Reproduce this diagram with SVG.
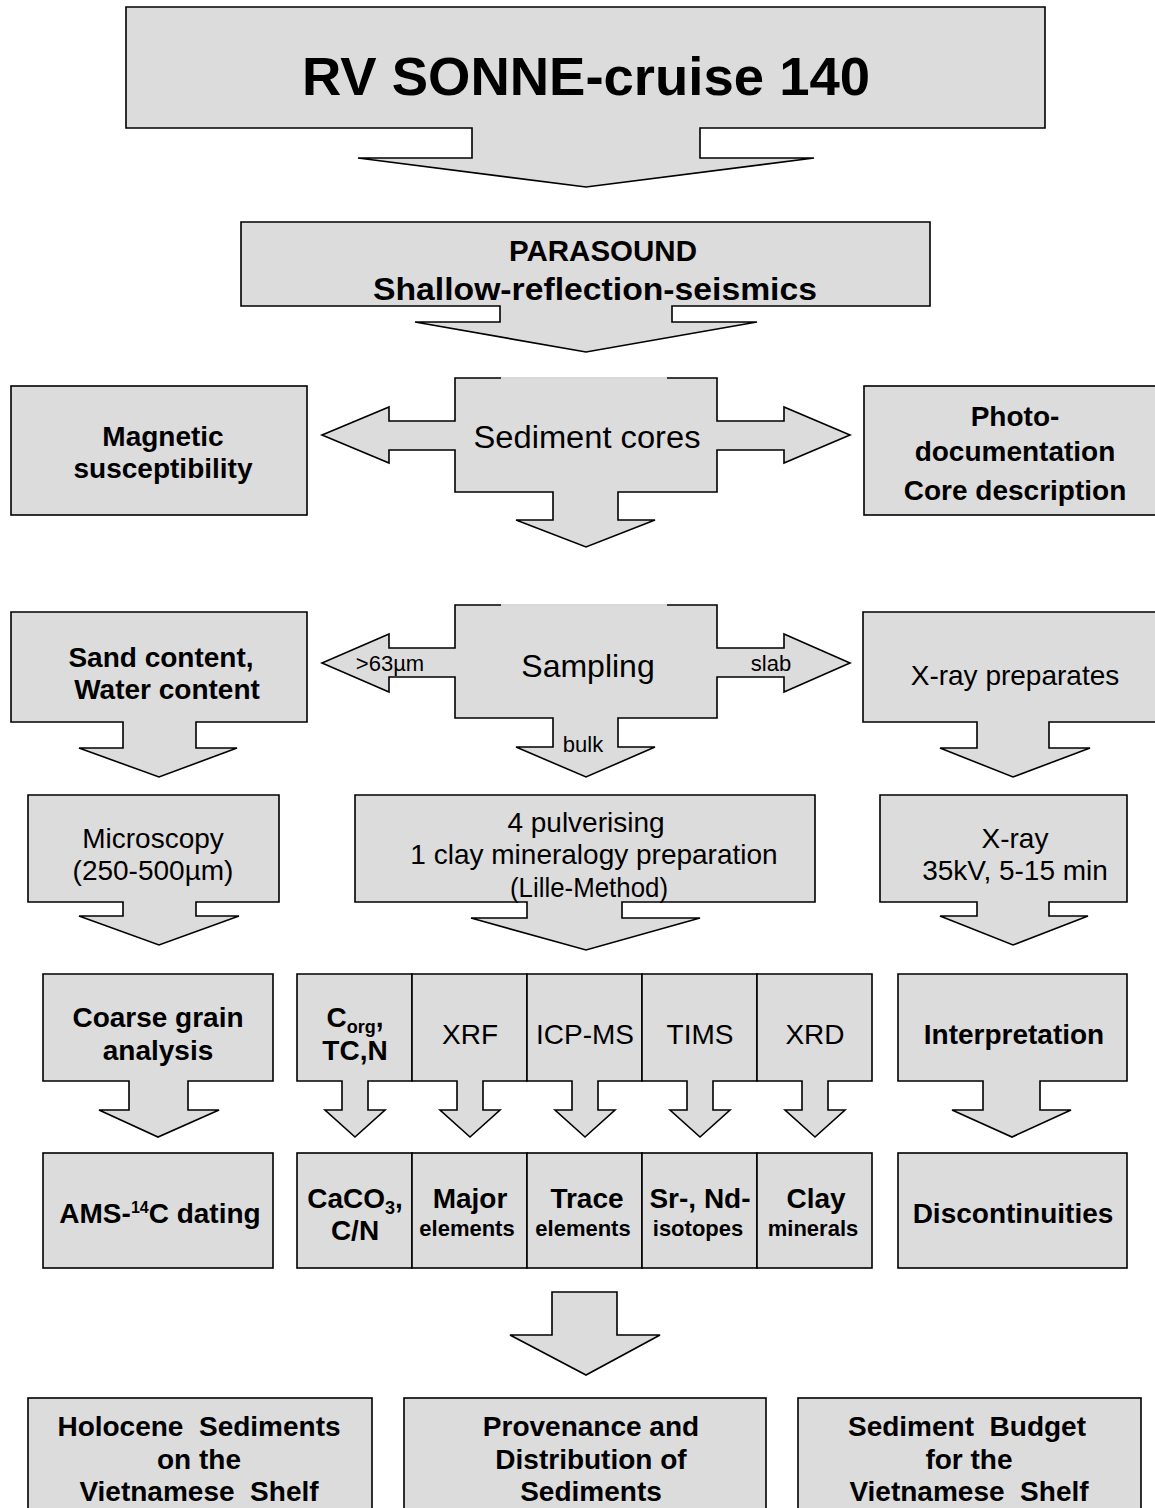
<svg xmlns="http://www.w3.org/2000/svg" width="1155" height="1508" viewBox="0 0 1155 1508">
<style>
.shape{fill:#dcdcdc;stroke:#000;stroke-width:1.6;stroke-linejoin:miter}
.t{font-family:"Liberation Sans",Arial,Helvetica,sans-serif;fill:#000;text-anchor:middle}
.b{font-weight:bold}
.f28{font-size:28px}
.f22{font-size:22px}
.gap{stroke:#d8d8d8;stroke-width:2}
</style>
<rect width="1155" height="1508" fill="#fff"/>

<g id="node-title">
<path class="shape" d="M126,7 H1045 V128 H700 V158 H814 L586,187 L358,158 H472 V128 H126 Z"/>
<text class="t b" x="586" y="95" font-size="54" textLength="568" lengthAdjust="spacingAndGlyphs">RV SONNE-cruise 140</text>
</g>

<g id="node-parasound">
<path class="shape" d="M241,222 H930 V306 H672 V322 H757 L586,352 L415,322 H500 V306 H241 Z"/>
<text class="t b" x="603" y="261" font-size="30" textLength="188" lengthAdjust="spacingAndGlyphs">PARASOUND</text>
<text class="t b" x="595" y="300" font-size="31" textLength="444" lengthAdjust="spacingAndGlyphs">Shallow-reflection-seismics</text>
</g>

<g id="node-magnetic">
<rect class="shape" x="11" y="386" width="296" height="129"/>
<text class="t b f28" x="163" y="446">Magnetic</text>
<text class="t b f28" x="163" y="478">susceptibility</text>
</g>

<g id="node-photo">
<rect class="shape" x="864" y="386" width="300" height="129"/>
<text class="t b f28" x="1015" y="426">Photo-</text>
<text class="t b f28" x="1015" y="461">documentation</text>
<text class="t b f28" x="1015" y="500">Core description</text>
</g>

<g id="node-sediment-cores">
<path class="shape" d="M455,378 H717 V421 H784 V407 L850,435 L784,463 V450 H717 V492 H618 V520 H655 L586,547 L516,520 H553 V492 H455 V450 H389 V463 L322,435 L389,407 V421 H455 Z"/>
<line class="gap" x1="501" y1="378" x2="667" y2="378"/>
<text class="t" x="587" y="448" font-size="31" textLength="227" lengthAdjust="spacingAndGlyphs">Sediment cores</text>
</g>

<g id="node-sand">
<path class="shape" d="M11,612 H307 V722 H196 V748 H237 L159,777 L79,748 H123 V722 H11 Z"/>
<text class="t b f28" x="161" y="667">Sand content,</text>
<text class="t b f28" x="167" y="699">Water content</text>
</g>

<g id="node-sampling">
<path class="shape" d="M455,605 H717 V648 H784 V634 L850,663 L784,692 V677 H717 V718 H618 V747 H655 L586,777 L516,747 H553 V718 H455 V677 H389 V692 L322,663 L389,634 V648 H455 Z"/>
<line class="gap" x1="501" y1="605" x2="667" y2="605"/>
<text class="t" x="588" y="677" font-size="32">Sampling</text>
<text class="t f22" x="390" y="671">&gt;63µm</text>
<text class="t f22" x="771" y="671">slab</text>
<text class="t f22" x="583" y="752">bulk</text>
</g>

<g id="node-xray-prep">
<path class="shape" d="M863,612 H1165 V722 H1049 V748 H1090 L1013,777 L940,748 H977 V722 H863 Z"/>
<text class="t f28" x="1015" y="685">X-ray preparates</text>
</g>

<g id="node-microscopy">
<path class="shape" d="M28,795 H279 V902 H196 V916 H239 L159,945 L79,916 H123 V902 H28 Z"/>
<text class="t f28" x="153" y="848">Microscopy</text>
<text class="t f28" x="153" y="880">(250-500µm)</text>
</g>

<g id="node-pulverising">
<path class="shape" d="M355,795 H815 V902 H622 V918 H700 L586,950 L471,918 H527 V902 H355 Z"/>
<text class="t f28" x="586" y="832">4 pulverising</text>
<text class="t f28" x="594" y="864">1 clay mineralogy preparation</text>
<text class="t f28" x="589" y="897" textLength="158" lengthAdjust="spacingAndGlyphs">(Lille-Method)</text>
</g>

<g id="node-xray">
<path class="shape" d="M880,795 H1127 V902 H1049 V916 H1088 L1013,945 L940,916 H977 V902 H880 Z"/>
<text class="t f28" x="1015" y="848">X-ray</text>
<text class="t f28" x="1015" y="880">35kV, 5-15 min</text>
</g>

<g id="node-coarse">
<path class="shape" d="M43,974 H273 V1081 H188 V1110 H219 L158,1137 L99,1110 H129 V1081 H43 Z"/>
<text class="t b f28" x="158" y="1027">Coarse grain</text>
<text class="t b f28" x="158" y="1060">analysis</text>
</g>

<g id="node-corg">
<path class="shape" d="M297,974 H412 V1081 H368 V1110 H385 L355,1137 L325,1110 H342 V1081 H297 Z"/>
<text class="t b f28" x="355" y="1027">C<tspan font-size="18" dy="6">org</tspan><tspan dy="-6">,</tspan></text>
<text class="t b f28" x="355" y="1060">TC,N</text>
</g>

<g id="node-xrf">
<path class="shape" d="M412,974 H527 V1081 H483 V1110 H500 L470,1137 L440,1110 H457 V1081 H412 Z"/>
<text class="t f28" x="470" y="1044">XRF</text>
</g>

<g id="node-icpms">
<path class="shape" d="M527,974 H642 V1081 H598 V1110 H615 L585,1137 L555,1110 H572 V1081 H527 Z"/>
<text class="t f28" x="585" y="1044">ICP-MS</text>
</g>

<g id="node-tims">
<path class="shape" d="M642,974 H757 V1081 H713 V1110 H730 L700,1137 L670,1110 H687 V1081 H642 Z"/>
<text class="t f28" x="700" y="1044">TIMS</text>
</g>

<g id="node-xrd">
<path class="shape" d="M757,974 H872 V1081 H828 V1110 H845 L815,1137 L785,1110 H802 V1081 H757 Z"/>
<text class="t f28" x="815" y="1044">XRD</text>
</g>

<g id="node-interpretation">
<path class="shape" d="M898,974 H1127 V1081 H1040 V1110 H1071 L1012,1137 L952,1110 H983 V1081 H898 Z"/>
<text class="t b f28" x="1014" y="1044">Interpretation</text>
</g>

<g id="node-ams">
<rect class="shape" x="43" y="1153" width="230" height="115"/>
<text class="t b f28" x="160" y="1223">AMS-<tspan font-size="16" dy="-10">14</tspan><tspan dy="10">C dating</tspan></text>
</g>

<g id="node-caco3">
<rect class="shape" x="297" y="1153" width="115" height="115"/>
<text class="t b f28" x="355" y="1208">CaCO<tspan font-size="18" dy="6">3</tspan><tspan dy="-6">,</tspan></text>
<text class="t b f28" x="355" y="1240">C/N</text>
</g>

<g id="node-major">
<rect class="shape" x="412" y="1153" width="115" height="115"/>
<text class="t b f28" x="470" y="1208">Major</text>
<text class="t b f22" x="467" y="1236">elements</text>
</g>

<g id="node-trace">
<rect class="shape" x="527" y="1153" width="115" height="115"/>
<text class="t b f28" x="587" y="1208">Trace</text>
<text class="t b f22" x="583" y="1236">elements</text>
</g>

<g id="node-srnd">
<rect class="shape" x="642" y="1153" width="115" height="115"/>
<text class="t b f28" x="700" y="1208">Sr-, Nd-</text>
<text class="t b f22" x="698" y="1236">isotopes</text>
</g>

<g id="node-clay">
<rect class="shape" x="757" y="1153" width="115" height="115"/>
<text class="t b f28" x="816" y="1208">Clay</text>
<text class="t b f22" x="813" y="1236">minerals</text>
</g>

<g id="node-discontinuities">
<rect class="shape" x="898" y="1153" width="229" height="115"/>
<text class="t b f28" x="1013" y="1223">Discontinuities</text>
</g>

<g id="node-holocene">
<rect class="shape" x="28" y="1398" width="344" height="130"/>
<text class="t b f28" x="199" y="1436" xml:space="preserve">Holocene  Sediments</text>
<text class="t b f28" x="199" y="1469">on the</text>
<text class="t b f28" x="199" y="1501" xml:space="preserve">Vietnamese  Shelf</text>
</g>

<g id="node-provenance">
<rect class="shape" x="404" y="1398" width="362" height="130"/>
<text class="t b f28" x="591" y="1436">Provenance and</text>
<text class="t b f28" x="591" y="1469">Distribution of</text>
<text class="t b f28" x="591" y="1501">Sediments</text>
</g>

<g id="node-budget">
<rect class="shape" x="798" y="1398" width="343" height="130"/>
<text class="t b f28" x="967" y="1436" xml:space="preserve">Sediment  Budget</text>
<text class="t b f28" x="969" y="1469">for the</text>
<text class="t b f28" x="969" y="1501" xml:space="preserve">Vietnamese  Shelf</text>
</g>

<g id="connectors">
<path class="shape" d="M552,1292 H617 V1335 H660 L586,1375 L510,1335 H552 Z"/>
</g>
</svg>
